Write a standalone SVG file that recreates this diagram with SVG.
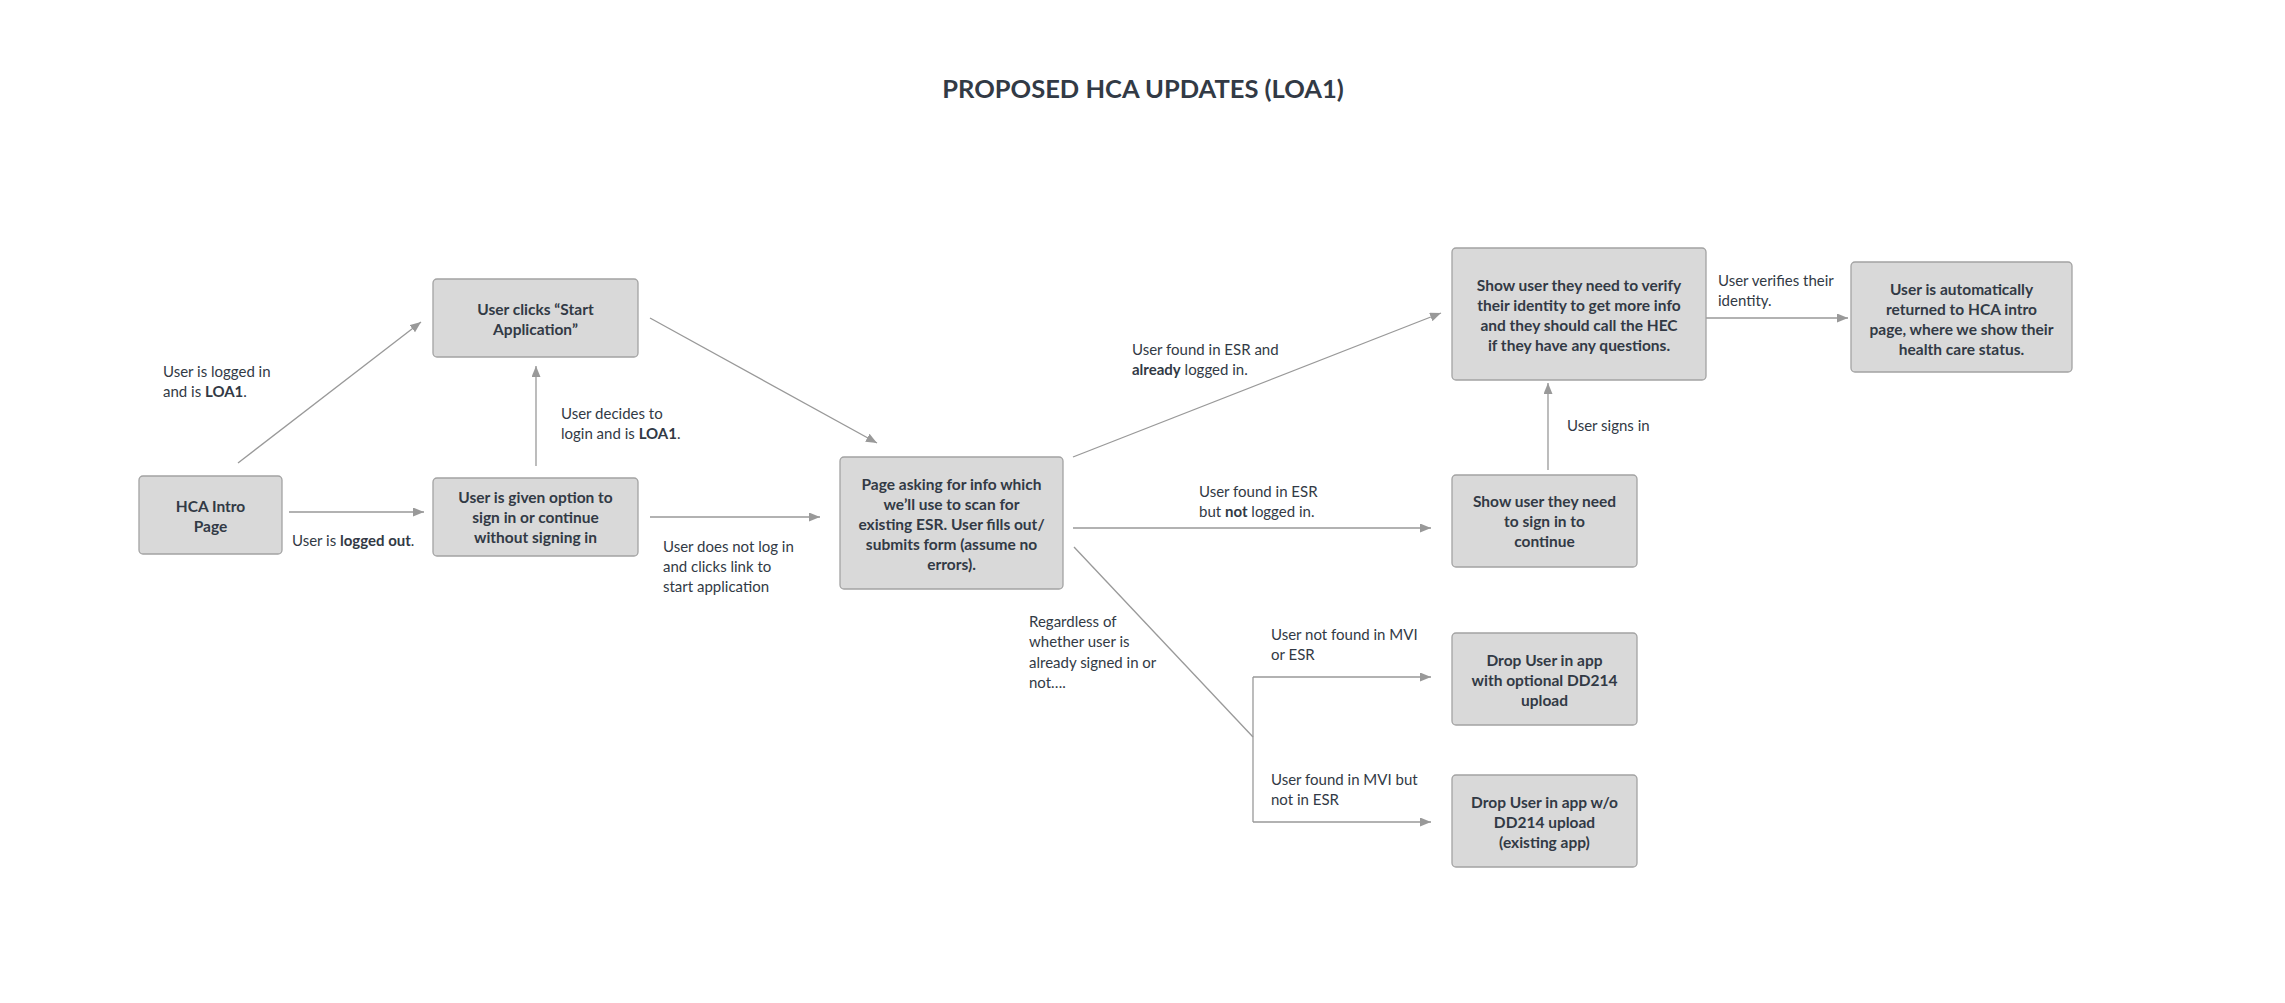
<svg xmlns="http://www.w3.org/2000/svg" width="2285" height="1003" viewBox="0 0 2285 1003">
<style>
.node rect{fill:#d9d9d9;stroke:#a3a3a3;stroke-width:1.3}
.nt{font-family:Lato,"Source Sans Pro","Liberation Sans",sans-serif;font-size:15.5px;font-weight:700;fill:#323a45;text-anchor:middle}
.lb{font-family:Lato,"Source Sans Pro","Liberation Sans",sans-serif;font-size:15px;fill:#323a45}
.lb .b{font-weight:700}
.title{font-family:Lato,"Source Sans Pro","Liberation Sans",sans-serif;font-size:25.5px;font-weight:700;fill:#323a45;text-anchor:middle}
.edges line{stroke:#999;stroke-width:1.3;fill:none}
.arr{marker-end:url(#ah)}
</style>
<defs>
<marker id="ah" markerUnits="userSpaceOnUse" markerWidth="12" markerHeight="10" refX="11" refY="4.5" orient="auto">
<path d="M0,0 L11,4.5 L0,9 z" fill="#999"/>
</marker>
</defs>
<rect width="2285" height="1003" fill="#fff"/>
<text class="title" x="1143" y="98">PROPOSED HCA UPDATES (LOA1)</text>

<g class="edges">
<line class="arr" x1="238" y1="463" x2="421" y2="322"/>
<line class="arr" x1="289" y1="512" x2="424" y2="512"/>
<line class="arr" x1="536" y1="466" x2="536" y2="366"/>
<line class="arr" x1="650" y1="318" x2="877" y2="443"/>
<line class="arr" x1="650" y1="517" x2="820" y2="517"/>
<line class="arr" x1="1073" y1="457" x2="1441" y2="313"/>
<line class="arr" x1="1073" y1="528" x2="1431" y2="528"/>
<line class="arr" x1="1548" y1="470" x2="1548" y2="383"/>
<line class="arr" x1="1706" y1="318" x2="1848" y2="318"/>
<line x1="1074" y1="547" x2="1253" y2="737"/>
<line x1="1253" y1="677" x2="1253" y2="822"/>
<line class="arr" x1="1253" y1="677" x2="1431" y2="677"/>
<line class="arr" x1="1253" y1="822" x2="1431" y2="822"/>
</g>

<g class="labels">
<text class="lb" x="163" y="377">User is logged in</text>
<text class="lb" x="163" y="397">and is <tspan class="b">LOA1</tspan>.</text>
<text class="lb" x="292" y="546">User is <tspan class="b">logged out</tspan>.</text>
<text class="lb" x="561" y="419">User decides to</text>
<text class="lb" x="561" y="439">login and is <tspan class="b">LOA1</tspan>.</text>
<text class="lb" x="663" y="552">User does not log in</text>
<text class="lb" x="663" y="572">and clicks link to</text>
<text class="lb" x="663" y="592">start application</text>
<text class="lb" x="1132" y="355">User found in ESR and</text>
<text class="lb" x="1132" y="375"><tspan class="b">already</tspan> logged in.</text>
<text class="lb" x="1199" y="497">User found in ESR</text>
<text class="lb" x="1199" y="517">but <tspan class="b">not</tspan> logged in.</text>
<text class="lb" x="1718" y="286">User verifies their</text>
<text class="lb" x="1718" y="306">identity.</text>
<text class="lb" x="1567" y="431">User signs in</text>
<text class="lb" x="1029" y="627">Regardless of</text>
<text class="lb" x="1029" y="647">whether user is</text>
<text class="lb" x="1029" y="668">already signed in or</text>
<text class="lb" x="1029" y="688">not….</text>
<text class="lb" x="1271" y="640">User not found in MVI</text>
<text class="lb" x="1271" y="660">or ESR</text>
<text class="lb" x="1271" y="785">User found in MVI but</text>
<text class="lb" x="1271" y="805">not in  ESR</text>
</g>

<g id="hca-intro" class="node">
<rect x="139" y="476" width="143" height="78" rx="4"/>
<text class="nt" x="210.5" y="512">HCA Intro</text>
<text class="nt" x="210.5" y="532">Page</text>
</g>
<g id="start-application" class="node">
<rect x="433" y="279" width="205" height="78" rx="4"/>
<text class="nt" x="535.5" y="315">User clicks “Start</text>
<text class="nt" x="535.5" y="335">Application”</text>
</g>
<g id="sign-in-option" class="node">
<rect x="433" y="478" width="205" height="78" rx="4"/>
<text class="nt" x="535.5" y="503">User is given option to</text>
<text class="nt" x="535.5" y="523">sign in or continue</text>
<text class="nt" x="535.5" y="543">without signing in</text>
</g>
<g id="info-page" class="node">
<rect x="840" y="457" width="223" height="132" rx="4"/>
<text class="nt" x="951.5" y="490">Page asking for info which</text>
<text class="nt" x="951.5" y="510">we’ll use to scan for</text>
<text class="nt" x="951.5" y="530">existing ESR. User fills out/</text>
<text class="nt" x="951.5" y="550">submits form (assume no</text>
<text class="nt" x="951.5" y="570">errors).</text>
</g>
<g id="verify-identity" class="node">
<rect x="1452" y="248" width="254" height="132" rx="4"/>
<text class="nt" x="1579" y="291">Show user they need to verify</text>
<text class="nt" x="1579" y="311">their identity to get more info</text>
<text class="nt" x="1579" y="331">and they should call the HEC</text>
<text class="nt" x="1579" y="351">if they have any questions.</text>
</g>
<g id="returned-intro" class="node">
<rect x="1851" y="262" width="221" height="110" rx="4"/>
<text class="nt" x="1961.5" y="295">User is automatically</text>
<text class="nt" x="1961.5" y="315">returned to HCA intro</text>
<text class="nt" x="1961.5" y="335">page, where we show their</text>
<text class="nt" x="1961.5" y="355">health care status.</text>
</g>
<g id="need-sign-in" class="node">
<rect x="1452" y="475" width="185" height="92" rx="4"/>
<text class="nt" x="1544.5" y="507">Show user they need</text>
<text class="nt" x="1544.5" y="527">to sign in to</text>
<text class="nt" x="1544.5" y="547">continue</text>
</g>
<g id="dd214-optional" class="node">
<rect x="1452" y="633" width="185" height="92" rx="4"/>
<text class="nt" x="1544.5" y="666">Drop User in app</text>
<text class="nt" x="1544.5" y="686">with optional DD214</text>
<text class="nt" x="1544.5" y="706">upload</text>
</g>
<g id="dd214-none" class="node">
<rect x="1452" y="775" width="185" height="92" rx="4"/>
<text class="nt" x="1544.5" y="808">Drop User in app w/o</text>
<text class="nt" x="1544.5" y="828">DD214 upload</text>
<text class="nt" x="1544.5" y="848">(existing app)</text>
</g>
</svg>
